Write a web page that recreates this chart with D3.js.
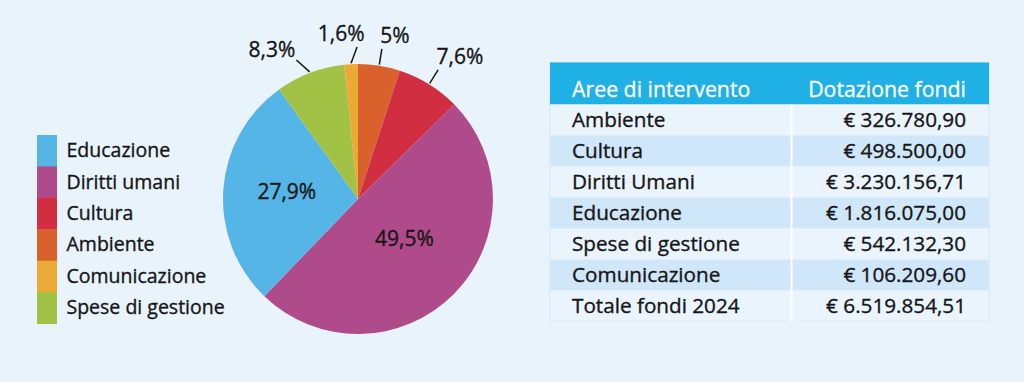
<!DOCTYPE html>
<html><head><meta charset="utf-8">
<script src="https://cdn.jsdelivr.net/npm/d3@7"></script>
<style>
html,body{margin:0;padding:0;background:#e8f3fc;}
svg{display:block;font-family:"Open Sans",sans-serif;}
.dk{fill:#161616;stroke:#161616;stroke-width:0.35px;}
.wt{fill:#ffffff;stroke:#ffffff;stroke-width:0.3px;}
</style></head>
<body>
<svg id="chart" width="1024" height="382"></svg>
<script>
// Legend order categories
const categories = ["Educazione","Diritti umani","Cultura","Ambiente","Comunicazione","Spese di gestione"];
const colors = ["#55b5e6","#b04b8b","#d22e41","#d9612b","#eba936","#a1c244"];
// Pie order (clockwise from top)
const pieOrder = ["Ambiente","Cultura","Diritti umani","Educazione","Spese di gestione","Comunicazione"];
const pieValues = [326780.90, 498500.00, 3230156.71, 1816075.00, 542132.30, 106209.60];
const pieLabels = ["5%","7,6%","49,5%","27,9%","8,3%","1,6%"];
// Table
const tableHeader = ["Aree di intervento","Dotazione fondi"];
const tableLabels = ["Ambiente","Cultura","Diritti Umani","Educazione","Spese di gestione","Comunicazione","Totale fondi 2024"];
const tableValues = ["€ 326.780,90","€ 498.500,00","€ 3.230.156,71","€ 1.816.075,00","€ 542.132,30","€ 106.209,60","€ 6.519.854,51"];

const svg = d3.select("#chart");
const color = d3.scaleOrdinal().domain(categories).range(colors);

// ---- Legend
const legend = svg.append("g");
const ly = d3.scaleBand().domain(categories).range([135, 323.5]);
legend.selectAll("rect").data(categories).join("rect")
  .attr("x", 37).attr("width", 20)
  .attr("y", d => ly(d)).attr("height", ly.bandwidth() + 0.5)
  .attr("fill", d => color(d));
legend.selectAll("text").data(categories).join("text")
  .attr("class","dk")
  .attr("x", 66.5).attr("y", d => ly(d) + ly.bandwidth()/2 + 6.5)
  .attr("font-size", 19.5)
  .text(d => d);

// ---- Pie
const cx = 358, cy = 199, R = 135;
const data = pieOrder.map((k, i) => ({key: k, value: pieValues[i], label: pieLabels[i]}));
const arcs = d3.pie().sort(null).value(d => d.value)(data);
const arc = d3.arc().innerRadius(0).outerRadius(R);
const g = svg.append("g").attr("transform", `translate(${cx},${cy})`);
g.selectAll("path").data(arcs).join("path")
  .attr("d", arc).attr("fill", d => color(d.data.key));

const pt = (a, r) => [Math.sin(a) * r, -Math.cos(a) * r];

// inner labels for big slices
const inner = arcs.filter(d => d.endAngle - d.startAngle > 1);
const innerR = {"Diritti umani": 0.45, "Educazione": 0.53};
const innerDA = {"Diritti umani": -0.08, "Educazione": 0.03};
g.selectAll("text.in").data(inner).join("text").attr("class","in dk")
  .attr("transform", d => {
    const mid = (d.startAngle + d.endAngle) / 2 + (innerDA[d.data.key] || 0);
    const c = pt(mid, R * (innerR[d.data.key] || 0.5));
    return `translate(${c[0]},${c[1]})`;
  })
  .attr("text-anchor","middle").attr("dy","0.36em")
  .attr("font-size", 21)
  .text(d => d.data.label);

// outer labels for small slices
const outer = arcs.filter(d => d.endAngle - d.startAngle <= 1);
const nudge = {"Spese di gestione": -0.054, "Comunicazione": 0.045};
const lift = {"Spese di gestione": 2.6};
outer.forEach(d => {
  const mid = (d.startAngle + d.endAngle) / 2;
  const a2 = mid + (nudge[d.data.key] || 0);
  const p1 = pt(mid, R + 1), p2 = pt(a2, R + 17);
  g.append("line").attr("x1", p1[0]).attr("y1", p1[1]).attr("x2", p2[0]).attr("y2", p2[1])
    .attr("stroke", "#161616").attr("stroke-width", 1.5);
  const right = Math.sin(a2) > 0;
  let dx = right ? -1.5 : -1;
  if (d.data.key === "Comunicazione") dx = 7.5;
  g.append("text").attr("class","dk")
    .attr("x", p2[0] + dx).attr("y", p2[1] - (lift[d.data.key] || 6))
    .attr("text-anchor", right ? "start" : "end")
    .attr("font-size", 21)
    .text(d.data.label);
});

// ---- Table
const tx0 = 550, tx1 = 989, tdiv = 791.5, headTop = 62.5, headBot = 104.5, tBot = 321.5;
const tbl = svg.append("g");
tbl.append("rect").attr("x", tx0).attr("y", headTop).attr("width", tx1 - tx0).attr("height", tBot - headTop)
  .attr("fill", "#eaf4fd").attr("stroke", "#cde2f4").attr("stroke-width", 1);
tbl.append("rect").attr("x", tx0).attr("y", headTop).attr("width", tx1 - tx0).attr("height", headBot - headTop)
  .attr("fill", "#1fb0e6");
const ry = d3.scaleBand().domain(tableLabels).range([headBot, tBot]);
tbl.selectAll("rect.row").data(tableLabels).join("rect").attr("class","row")
  .attr("x", tx0 + 0.5).attr("width", tx1 - tx0 - 1)
  .attr("y", d => ry(d)).attr("height", ry.bandwidth())
  .attr("fill", (d, i) => i % 2 ? "#d0e6f9" : "#eaf4fd");
tbl.append("line").attr("x1", tdiv).attr("x2", tdiv).attr("y1", headBot).attr("y2", tBot)
  .attr("stroke", "#ffffff").attr("stroke-width", 2);
tbl.append("text").attr("class","wt").attr("x", 572).attr("y", 96.5).attr("font-size", 21.3).text(tableHeader[0]);
tbl.append("text").attr("class","wt").attr("x", 966).attr("y", 96.5).attr("text-anchor","end").attr("font-size", 21.3).text(tableHeader[1]);
tbl.selectAll("text.lab").data(tableLabels).join("text").attr("class","lab dk")
  .attr("x", 572).attr("y", d => ry(d) + ry.bandwidth()/2 + 7)
  .attr("font-size", 20.7).text(d => d);
tbl.selectAll("text.val").data(tableValues).join("text").attr("class","val dk")
  .attr("x", 966).attr("y", (d, i) => ry(tableLabels[i]) + ry.bandwidth()/2 + 7)
  .attr("text-anchor","end")
  .attr("font-size", 20.7).text(d => d);
</script>
</body></html>
